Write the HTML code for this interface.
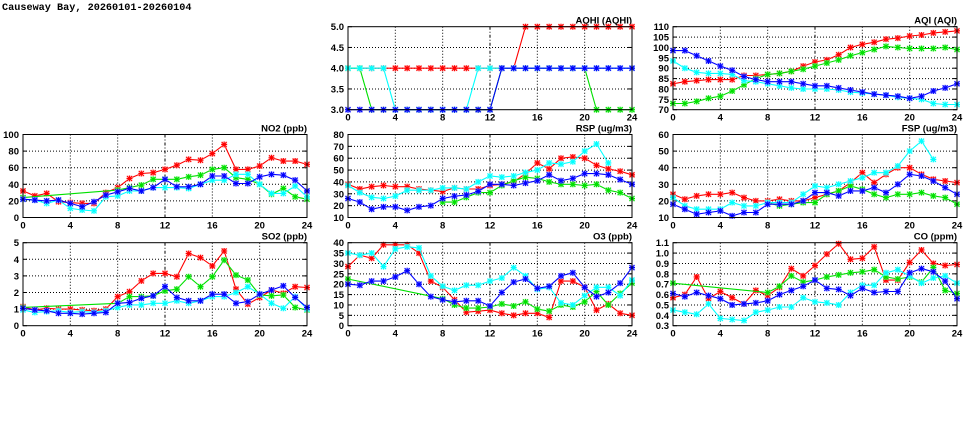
<!DOCTYPE html>
<html><head><meta charset="utf-8"><style>
html,body{margin:0;padding:0;background:#fff;}
svg{display:block;font-family:"Liberation Sans",sans-serif;}
</style></head>
<body>
<svg id="chart" width="975" height="447" viewBox="0 0 975 447" xmlns="http://www.w3.org/2000/svg">
<rect width="975" height="447" fill="#fff"/>
<text x="2" y="10" font-family="Liberation Mono, monospace" font-size="10.2" font-weight="bold" fill="#000">Causeway Bay, 20260101-20260104</text>
</svg>
<script>
const hours = [0,1,2,3,4,5,6,7,8,9,10,11,12,13,14,15,16,17,18,19,20,21,22,23,24];
const xTicks = [0,4,8,12,16,20,24];
const N = null;

const aqhiRed   = [4,4,4,4,4,4,4,4,4,4,4,4,4,4,4,5,5,5,5,5,5,5,5,5,5];
const aqhiGreen = [4,4,3,3,3,3,3,3,3,3,3,3,3,4,4,4,4,4,4,4,4,3,3,3,3];
const aqhiCyan  = [4,4,4,4,3,3,3,3,3,3,3,4,4,4,4,4,4,4,4,4,4,4,4,4,4];
const aqhiBlue  = [3,3,3,3,3,3,3,3,3,3,3,3,3,4,4,4,4,4,4,4,4,4,4,4,4];
const aqhiTicks = [3.0,3.5,4.0,4.5,5.0];

const aqiRed   = [82.5,83.5,84,84.5,84.5,84.5,86.5,86.5,87,87.5,88.5,91,93,94,96.5,100,101.5,102.5,104,104.5,105.5,106,107,107.5,108];
const aqiGreen = [73,73,74,75.5,76.5,79,82,85,87,87.5,88.5,89.5,91,92.5,94,96,97.5,99,100.5,100,99.5,99.5,99.5,100,99];
const aqiBlue  = [98.5,98.5,96,93.5,91,89,86,84.5,83.5,83.5,83.5,82.5,81.5,81.5,80.5,79.5,78.5,77.5,77,76.5,75.5,76.5,79,80.5,82.5];
const aqiCyan  = [93.5,90,88,87.5,87.5,87,84,83.5,82.5,81.5,80.5,80,80,80,79.5,78.5,78,77.5,77,76,75.5,75,73,72.5,72.5];
const aqiTicks = [70,75,80,85,90,95,100,105,110];

const no2Red   = [32,26,29,19,18,17,17,30,36,47,53,54,58,63,70,69,77,88,58,58,62,72,68,68,64];
const no2Green = [24,N,N,N,N,N,N,N,33,36,39,46,46,46,49,51,58,60,48,46,40,28,35,25,22];
const no2Blue  = [22,21,20,21,17,13,19,27,31,35,32,36,46,37,37,40,50,50,41,41,49,52,51,45,32];
const no2Cyan  = [22,21,17,21,11,9,8,25,26,32,32,36,36,36,35,40,45,45,52,52,40,29,29,38,25];
const no2Ticks = [0,20,40,60,80,100];

const rspRed   = [38,34,36,37,36,36,34,33,32,35,34,34,37,38,40,47,56,51,60,61,60,54,51,49,46];
const rspGreen = [N,N,N,N,N,N,N,N,23,23,27,31,31,37,41,44,43,40,38,38,37,38,33,31,26];
const rspBlue  = [26,23,17,19,19,16,19,20,26,28,29,32,38,38,37,39,41,46,41,43,47,47,46,42,38];
const rspCyan  = [37,31,27,26,28,33,33,33,35,35,34,40,45,44,45,48,50,56,55,57,66,72,56,N,N];
const rspTicks = [10,20,30,40,50,60,70,80];

const fspRed   = [24,21,23,24,24,25,22,20,20,21,20,20,22,24,26,31,37,31,36,40,40,36,33,32,31];
const fspGreen = [N,N,N,N,N,N,N,N,19,17,18,19,19,24,26,29,27,24,22,24,24,25,23,22,18];
const fspBlue  = [18,15,12,13,14,11,13,13,18,18,18,20,25,25,23,26,26,28,25,30,36,35,32,28,24];
const fspCyan  = [22,17,15,15,15,19,17,17,19,19,19,24,29,28,30,32,34,37,37,41,50,56,45,N,N];
const fspTicks = [10,20,30,40,50,60];

const so2Red   = [1.15,0.95,1.05,1.0,1.0,0.95,0.9,1.0,1.75,2.05,2.7,3.15,3.15,2.95,4.35,4.1,3.6,4.5,2.2,1.3,1.7,2.15,1.95,2.35,2.3];
const so2Green = [1.1,N,N,N,N,N,N,N,1.35,1.75,1.75,1.8,2.1,2.2,2.95,2.35,2.95,3.95,3.05,2.75,1.85,1.8,1.85,1.1,0.95];
const so2Blue  = [1.05,0.95,0.9,0.75,0.75,0.7,0.75,0.8,1.35,1.4,1.65,1.8,2.35,1.7,1.5,1.5,1.9,1.9,1.35,1.45,1.9,2.15,2.4,1.7,1.1];
const so2Cyan  = [0.95,0.8,0.85,0.9,0.8,0.85,0.8,0.9,1.1,1.25,1.25,1.35,1.35,1.5,1.35,1.5,1.75,1.75,2.0,2.35,1.9,1.35,1.05,1.75,1.0];
const so2Ticks = [0,1,2,3,4,5];

const o3Red   = [28.5,34,32.5,39,39,39,35,21.5,18.5,12.5,6.5,7,7.5,6,5,6,6,4,21.5,21.5,18.5,7.5,10.5,6,5];
const o3Green = [22.5,N,N,N,N,N,N,N,13,10,8.5,8.5,9,10.5,9.5,11.5,8,7,10,9,11.5,16.5,10,15.5,20.5];
const o3Blue  = [20,19.5,21.5,21.5,23.5,26.5,20,14,12.5,11.5,12,12,9.5,16,21,22.5,18,19,24,25.5,18.5,14,16,20.5,28];
const o3Cyan  = [35,34,35,28.5,37,38,37.5,24,19,17,19.5,19.5,21.5,23,28,24,17.5,18.5,11,10,14.5,18.5,18.5,14.5,22];
const o3Ticks = [0,5,10,15,20,25,30,35,40];

const coRed   = [0.57,0.60,0.77,0.56,0.63,0.57,0.51,0.64,0.59,0.67,0.85,0.78,0.88,0.99,1.09,0.94,0.95,1.06,0.74,0.74,0.91,1.03,0.90,0.88,0.89];
const coGreen = [0.71,N,N,N,N,N,N,N,0.62,0.68,0.78,0.72,0.74,0.77,0.79,0.81,0.82,0.84,0.77,0.75,0.77,0.72,0.86,0.64,0.61];
const coBlue  = [0.61,0.58,0.62,0.59,0.56,0.50,0.51,0.52,0.54,0.60,0.64,0.68,0.74,0.66,0.65,0.59,0.66,0.62,0.63,0.63,0.81,0.85,0.82,0.73,0.56];
const coCyan  = [0.45,0.43,0.41,0.51,0.37,0.36,0.35,0.43,0.45,0.48,0.48,0.57,0.53,0.52,0.50,0.62,0.69,0.69,0.81,0.84,0.78,0.71,0.76,0.78,0.71];
const coTicks = [0.3,0.4,0.5,0.6,0.7,0.8,0.9,1.0,1.1];

const NS = "http://www.w3.org/2000/svg";
const svg = document.getElementById("chart");
function mk(tag, attrs, parent){
  const e = document.createElementNS(NS, tag);
  for (const k in attrs) e.setAttribute(k, attrs[k]);
  (parent||svg).appendChild(e);
  return e;
}

const colX = [23, 348, 673];
const rowY = [26.7, 134.5, 242.7];
const PW = 284, PH = 83;

const panels = [
  {name:"aqhi", title:"AQHI (AQHI)", col:1, row:0, ticks:aqhiTicks, dec:1, series:[aqhiRed,aqhiGreen,aqhiCyan,aqhiBlue]},
  {name:"aqi", title:"AQI (AQI)", col:2, row:0, ticks:aqiTicks, dec:0, series:[aqiRed,aqiGreen,aqiCyan,aqiBlue]},
  {name:"no2", title:"NO2 (ppb)", col:0, row:1, ticks:no2Ticks, dec:0, series:[no2Red,no2Green,no2Cyan,no2Blue]},
  {name:"rsp", title:"RSP (ug/m3)", col:1, row:1, ticks:rspTicks, dec:0, series:[rspRed,rspGreen,rspCyan,rspBlue]},
  {name:"fsp", title:"FSP (ug/m3)", col:2, row:1, ticks:fspTicks, dec:0, series:[fspRed,fspGreen,fspCyan,fspBlue]},
  {name:"so2", title:"SO2 (ppb)", col:0, row:2, ticks:so2Ticks, dec:0, series:[so2Red,so2Green,so2Cyan,so2Blue]},
  {name:"o3", title:"O3 (ppb)", col:1, row:2, ticks:o3Ticks, dec:0, series:[o3Red,o3Green,o3Cyan,o3Blue]},
  {name:"co", title:"CO (ppm)", col:2, row:2, ticks:coTicks, dec:1, series:[coRed,coGreen,coCyan,coBlue]}
];
const colors = ["#ff0000","#00e000","#00ffff","#0000ff"];
const halos = ["#ffb0b0","#b0ffb0","#c0ffff","#b0b0ff"];
const seriesNames = ["red","green","cyan","blue"];

panels.forEach(p => {
  const x0 = colX[p.col], y0 = rowY[p.row];
  const ymin = p.ticks[0], ymax = p.ticks[p.ticks.length-1];
  const xs = h => x0 + h / 24 * PW;
  const ys = v => y0 + PH - (v - ymin) / (ymax - ymin) * PH;
  const g = mk("g", {});
  
  

  p.ticks.forEach((t, i) => {
    const y = ys(t);
    if (i > 0 && i < p.ticks.length-1) {
      const gl = mk("line", {x1:x0, x2:x0+PW, y1:y, y2:y, stroke:"#000", "stroke-width":1, "stroke-dasharray":"1,2"}, g);
      
      
    }
    mk("line", {x1:x0, x2:x0+4, y1:y, y2:y, stroke:"#000"}, g);
    mk("line", {x1:x0+PW-4, x2:x0+PW, y1:y, y2:y, stroke:"#000"}, g);
    const lab = mk("text", {x:x0-4, y:y+3.5, "text-anchor":"end", "font-size":9.5, "font-weight":"bold", fill:"#000"}, g);
    
    
    lab.textContent = t.toFixed(p.dec);
  });
  xTicks.forEach((t, i) => {
    const x = xs(t);
    if (i > 0 && i < xTicks.length-1) {
      const gl = mk("line", {x1:x, x2:x, y1:y0, y2:y0+PH, stroke:"#000", "stroke-width":1, "stroke-dasharray": t===12 ? "3,2,1,2" : "1,2"}, g);
      
      
    }
    const lab = mk("text", {x:x, y:y0+PH+11, "text-anchor":"middle", "font-size":9.5, "font-weight":"bold", fill:"#000"}, g);
    
    
    lab.textContent = t;
  });
  const tt = mk("text", {x:x0+PW, y:y0-3, "text-anchor":"end", "font-size":9.5, "font-weight":"bold", fill:"#000"}, g);
  
  
  tt.textContent = p.title;

  const cid = "clip-" + p.name;
  const cp = mk("clipPath", {id:cid}, g);
  mk("rect", {x:x0-4, y:y0-4, width:PW+8, height:PH+8}, cp);
  const sg = mk("g", {"clip-path":"url(#"+cid+")"}, g);

  p.series.forEach((arr, si) => {
    const pts = [];
    hours.forEach((h, i) => { if (arr[i] !== null && arr[i] !== undefined) pts.push([xs(h), ys(arr[i])]); });
    const line = mk("polyline", {points: pts.map(q => q[0].toFixed(1)+","+q[1].toFixed(1)).join(" "), fill:"none", stroke:colors[si], "stroke-width":1.1}, sg);
    
    
    pts.forEach(q => {
      const m = mk("g", {}, sg);
      
      
      mk("rect", {x:q[0]-3, y:q[1]-3, width:6, height:6, fill:halos[si], opacity:0.6}, m);
      const d = 2.5;
      mk("path", {d:`M${q[0]-d},${q[1]-d}L${q[0]+d},${q[1]+d}M${q[0]-d},${q[1]+d}L${q[0]+d},${q[1]-d}M${q[0]-d-0.5},${q[1]}L${q[0]+d+0.5},${q[1]}M${q[0]},${q[1]-d-0.5}L${q[0]},${q[1]+d+0.5}`, stroke:colors[si], "stroke-width":1.1, fill:"none"}, m);
    });
  });

  const border = mk("rect", {x:x0, y:y0, width:PW, height:PH, fill:"none", stroke:"#000", "stroke-width":1}, g);
  
  
});
</script>
</body></html>
